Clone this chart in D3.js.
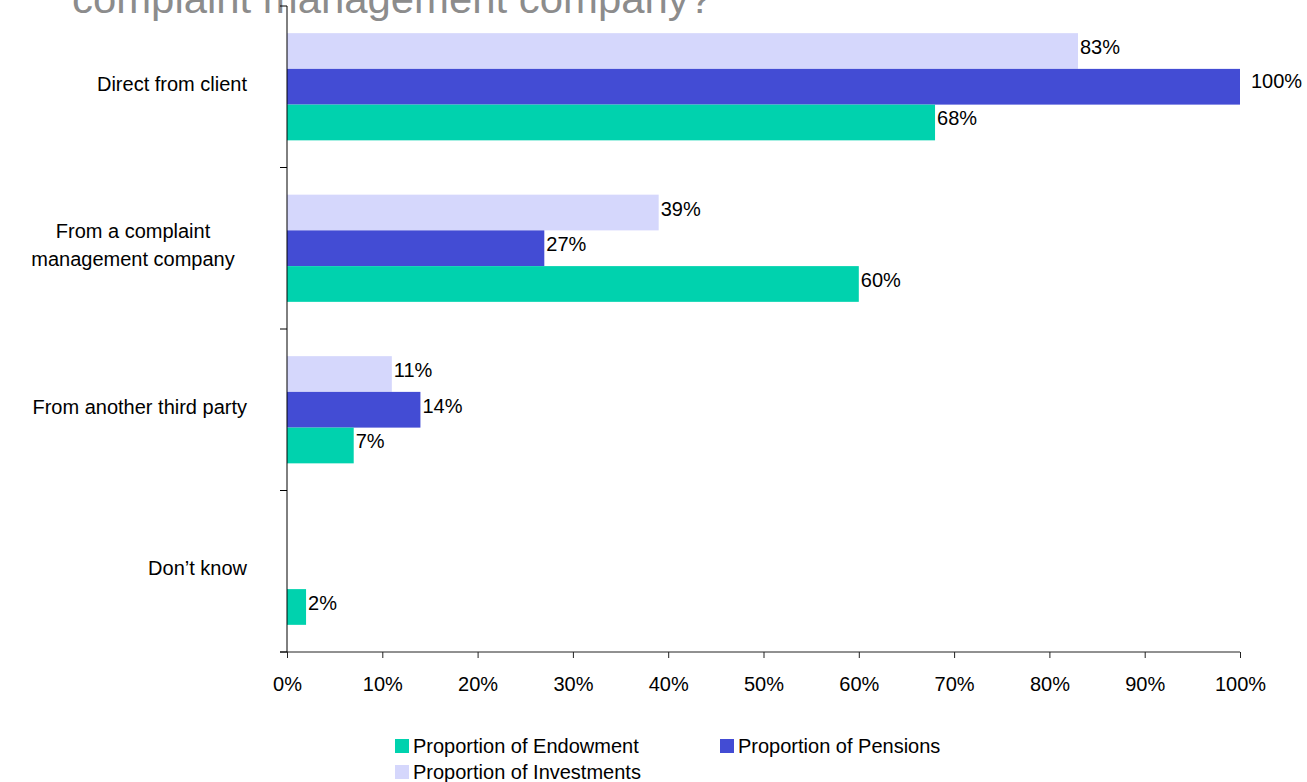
<!DOCTYPE html>
<html>
<head>
<meta charset="utf-8">
<script src="https://cdn.jsdelivr.net/npm/d3@7/dist/d3.min.js"></script>
<style>
  html, body { margin: 0; padding: 0; background: #fff; }
  svg { display: block; font-family: "Liberation Sans", Arial, sans-serif; }
</style>
</head>
<body>
<svg id="chart" width="1307" height="782"></svg>
<script>
// Categories (top to bottom) and their wrapped label lines
const categories = ["Direct from client", "From a complaint management company", "From another third party", "Don't know"];
const categoryLines = [["Direct from client"], ["From a complaint", "management company"], ["From another third party"], ["Don\u2019t know"]];

// Series values, percent (null = no bar)
const seriesNames = ["Proportion of Investments", "Proportion of Pensions", "Proportion of Endowment"];
const investments = [83, 39, 11, null];
const pensions = [100, 27, 14, null];
const endowment = [68, 60, 7, 2];

const xTicks = [0, 10, 20, 30, 40, 50, 60, 70, 80, 90, 100];
const legendOrder = ["Proportion of Endowment", "Proportion of Pensions", "Proportion of Investments"];

const colors = {
  "Proportion of Investments": "#d5d7fc",
  "Proportion of Pensions": "#434cd4",
  "Proportion of Endowment": "#00d2ae"
};

const seriesData = {
  "Proportion of Investments": investments,
  "Proportion of Pensions": pensions,
  "Proportion of Endowment": endowment
};

const svg = d3.select("#chart");
const plot = { left: 287, right: 1240, top: 6, bottom: 652 };
const FS = 20;

const x = d3.scaleLinear().domain([0, 100]).range([plot.left, plot.right]);
const y = d3.scaleBand().domain(categories).range([plot.top, plot.bottom]).paddingInner(0).paddingOuter(0);
const inner = d3.scaleBand().domain(seriesNames).range([0, y.bandwidth()]).paddingInner(0).paddingOuter(0.76);

// Title (last line, runs off the top edge)
svg.append("text")
  .attr("x", 72).attr("y", 13)
  .attr("font-size", 40)
  .attr("fill", "#8c8c8c")
  .attr("textLength", 640)
  .attr("lengthAdjust", "spacingAndGlyphs")
  .text("complaint management company?");

// Bars
const rows = [];
categories.forEach((c, i) => {
  seriesNames.forEach(s => {
    const v = seriesData[s][i];
    if (v !== null) rows.push({ cat: c, series: s, value: v });
  });
});

svg.append("g").selectAll("rect").data(rows).join("rect")
  .attr("x", x(0))
  .attr("y", d => y(d.cat) + inner(d.series))
  .attr("width", d => x(d.value) - x(0))
  .attr("height", inner.bandwidth())
  .attr("fill", d => colors[d.series]);

// Value labels
svg.append("g").selectAll("text").data(rows).join("text")
  .attr("x", d => x(d.value) + (d.value >= 100 ? 11 : 2))
  .attr("y", d => y(d.cat) + inner(d.series) + inner.bandwidth() / 2 - (d.value >= 100 ? 6 : 4))
  .attr("dy", "0.35em")
  .attr("font-size", FS)
  .attr("fill", "#000")
  .text(d => d.value + "%");

// X axis
const xAxis = svg.append("g")
  .attr("transform", `translate(0,${plot.bottom})`)
  .call(d3.axisBottom(x).tickValues(xTicks).tickFormat(d => d + "%").tickSize(6).tickSizeOuter(0));
xAxis.select(".domain").attr("d", `M${plot.left - 7},0H${plot.right}`).attr("stroke", "#222");
xAxis.selectAll(".tick line").attr("stroke", "#222");
xAxis.selectAll(".tick text")
  .attr("y", 32).attr("dy", "0.35em")
  .attr("font-size", FS).attr("font-family", "Liberation Sans, Arial, sans-serif").attr("fill", "#000");

// Y axis line and ticks at band boundaries
const yg = svg.append("g");
yg.append("line")
  .attr("x1", plot.left).attr("x2", plot.left)
  .attr("y1", plot.top).attr("y2", plot.bottom)
  .attr("stroke", "#000");
const bounds = categories.map(c => y(c)).concat([plot.bottom]);
yg.selectAll("line.tick").data(bounds).join("line")
  .attr("class", "tick")
  .attr("x1", plot.left - 7).attr("x2", plot.left)
  .attr("y1", d => d).attr("y2", d => d)
  .attr("stroke", "#000");

// Category labels
const catG = svg.append("g").attr("font-size", FS).attr("fill", "#000");
categories.forEach((c, i) => {
  const lines = categoryLines[i];
  const cy = y(c) + y.bandwidth() / 2 - 3;
  const lh = 28;
  const multi = lines.length > 1;
  lines.forEach((ln, j) => {
    catG.append("text")
      .attr("x", multi ? 133 : 247)
      .attr("text-anchor", multi ? "middle" : "end")
      .attr("y", cy + (j - (lines.length - 1) / 2) * lh)
      .attr("dy", "0.35em")
      .text(ln);
  });
});

// Legend
const legendPos = [
  { x: 395, y: 739 },
  { x: 720, y: 739 },
  { x: 395, y: 765 }
];
const lg = svg.append("g").attr("font-size", FS);
legendOrder.forEach((s, i) => {
  const p = legendPos[i];
  lg.append("rect").attr("x", p.x).attr("y", p.y).attr("width", 14).attr("height", 14).attr("fill", colors[s]);
  lg.append("text").attr("x", p.x + 18).attr("y", p.y + 7).attr("dy", "0.35em").attr("fill", "#000").text(s);
});
</script>
</body>
</html>
